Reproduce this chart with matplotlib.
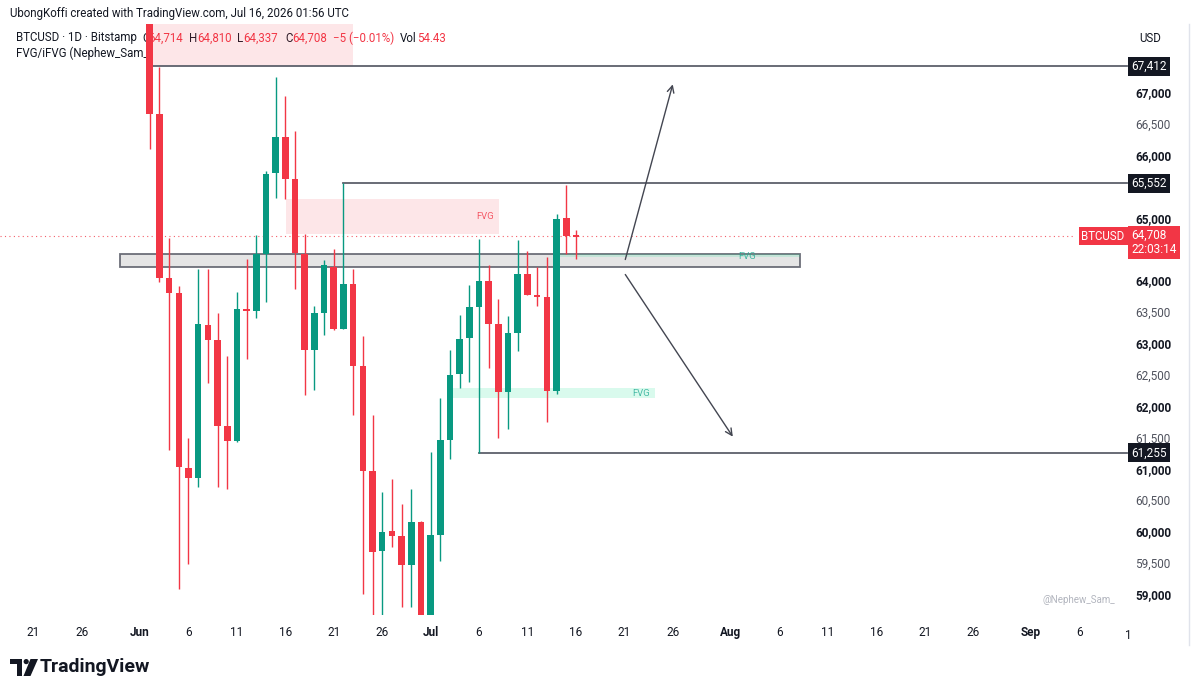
import numpy as np
import pandas as pd
import matplotlib
matplotlib.use('Agg')
import matplotlib.pyplot as plt
import matplotlib.transforms as mtransforms
from matplotlib.patches import Rectangle, Polygon, Circle
from matplotlib.lines import Line2D

plt.rcParams['font.family'] = ['Roboto', 'DejaVu Sans']

# daily BTCUSD candles (Bitstamp), Jun 2 -> Jul 16 2026
dates = pd.date_range('2026-06-02', '2026-07-16', freq='D')
opens = [68400, 66660, 64035, 63800, 61010, 60850, 63290, 63060, 61675, 61440,
         63550, 63515, 64425, 65710, 66280, 65610, 64425, 62885, 63480, 64215,
         63235, 63940, 62640, 60970, 59695, 60005, 59935, 59460, 60150, 58550,
         59950, 61465, 62510, 63080, 63575, 63990, 63315, 62230, 63170, 64105,
         63770, 63735, 62245, 64990, 64714]
highs = [68600, 67410, 64680, 63905, 61490, 64190, 64190, 63490, 62800, 63820,
         64340, 64725, 65750, 67250, 66945, 66385, 64740, 63600, 64335, 64510,
         65552, 64190, 63120, 61855, 60635, 60830, 60445, 60680, 60160, 61265,
         62130, 62890, 63445, 63930, 64655, 64255, 63710, 63440, 64640, 64465,
         64220, 64380, 65065, 65515, 64810]
lows = [66100, 63980, 61300, 59090, 59490, 60710, 62375, 60710, 60680, 61420,
        62755, 63410, 63650, 65320, 65305, 63860, 62180, 62250, 63135, 63205,
        63220, 61860, 59010, 58665, 58665, 59760, 58795, 58795, 58300, 58400,
        59525, 61155, 62280, 62385, 61255, 62605, 61485, 61640, 62875, 63775,
        63590, 61745, 62195, 64430, 64337]
closes = [66660, 64035, 63800, 61030, 60850, 63300, 63045, 61675, 61440, 63545,
          63510, 64430, 65705, 66280, 65610, 64435, 62885, 63480, 64240, 63235,
          63940, 62640, 60970, 59680, 60000, 59935, 59460, 60150, 58550, 59950,
          61465, 62500, 63070, 63575, 63990, 63300, 62230, 63170, 64105, 63775,
          63735, 62245, 64975, 64710, 64708]

# drawn levels (price, start day counted from Jun 1)
levels = [67412, 65552, 61255]
level_start = [1.35, 21, 35]

# zones: (day from, day to, price low, price high)
pink_zones = [(1.0, 22.0, 67412, 68700), (15.1, 37.1, 64740, 65300)]
green_zones = [(32.0, 53.2, 62130, 62290), (43.0, 68.1, 64380, 64423)]
grey_box = (-2.1, 68.1, 64216, 64423)
fvg_labels = [(35.6, 65020, '#f23645'), (51.7, 62200, '#22ab94'), (62.7, 64380, '#22ab94')]

# projection arrows: (start day, start price, end day, end price)
arrows = [(50.1, 64335, 55.0, 67126), (50.1, 64096, 61.2, 61512)]

# price scale labels shown (64,500 and 65,500 are hidden behind the price boxes)
yticks = [59000, 59500, 60000, 60500, 61000, 61500, 62000, 62500, 63000, 63500,
          64000, 65000, 66000, 66500, 67000, 67500]
xtick_days = [-11, -6, 0, 5, 10, 15, 20, 25, 30, 35, 40, 45, 50, 55, 61, 66, 71, 76, 81, 86, 92, 97]
xtick_labels = ['21', '26', 'Jun', '6', '11', '16', '21', '26', 'Jul', '6', '11', '16',
                '21', '26', 'Aug', '6', '11', '16', '21', '26', 'Sep', '6']

GREEN = '#089981'
RED = '#f23645'
DARK = '#131722'
LINE = '#5d606b'

W, H = 1199, 694
fig = plt.figure(figsize=(W / 100, H / 100), dpi=100)
fig.patch.set_facecolor('white')
ax = fig.add_axes([0, 1 - 615 / H, 1127 / W, (615 - 24) / H])
ax.patch.set_visible(False)
ax.set_xlim(-14.46, 101.9)
ax.set_ylim(58670, 68088)
for s in ax.spines.values():
    s.set_visible(False)

x = (dates - pd.Timestamp('2026-06-01')).days.values
o = np.array(opens, float)
h = np.array(highs, float)
l = np.array(lows, float)
c = np.array(closes, float)
cols = np.where(c >= o, GREEN, RED)

# zones
for x0, x1, p0, p1 in pink_zones:
    ax.add_patch(Rectangle((x0, p0), x1 - x0, p1 - p0, fc=RED, alpha=0.12, lw=0, zorder=1))
for x0, x1, p0, p1 in green_zones:
    ax.add_patch(Rectangle((x0, p0), x1 - x0, p1 - p0, fc='#2ee6a0', alpha=0.18, lw=0, zorder=2.2))
gx0, gx1, gp0, gp1 = grey_box
ax.add_patch(Rectangle((gx0, gp0), gx1 - gx0, gp1 - gp0, fc='#e3e3e3', ec=LINE, lw=1.3,
                       alpha=0.9, zorder=2))
for fx, fy, fc in fvg_labels:
    ax.text(fx, fy, 'FVG', color=fc, fontsize=6.8, ha='center', va='center', alpha=0.8, zorder=3)

# levels
for lv, st in zip(levels, level_start):
    ax.plot([st, 101.9], [lv, lv], color=LINE, lw=1.3, zorder=3, clip_on=False)

# last price dotted line
ax.plot([-14.46, 96.3], [closes[-1]] * 2, color=RED, lw=0.8, ls=(0, (1, 3)), alpha=0.8, zorder=1.5)

# candles
ax.vlines(x, l, h, colors=cols, lw=1, zorder=4)
bh = np.maximum(np.abs(c - o), 25)
bb = (o + c) / 2 - bh / 2
ax.bar(x, bh, bottom=bb, width=0.68, color=cols, lw=0, zorder=5)

for x0, p0, x1, p1 in arrows:
    ax.annotate('', xy=(x1, p1), xytext=(x0, p0),
                arrowprops=dict(arrowstyle='->', color='#434651', lw=1, mutation_scale=12,
                                shrinkA=0, shrinkB=0), zorder=6)

# axes / ticks
ax.yaxis.tick_right()
ax.set_yticks(yticks)
ax.set_yticklabels([f'{v:,}' for v in yticks])
for v, t in zip(yticks, ax.get_yticklabels()):
    if v % 1000 == 0:
        t.set_fontweight('bold')
        t.set_color(DARK)
    else:
        t.set_color('#50535e')
ax.tick_params(axis='y', length=0, pad=6, labelsize=8.5)
ax.set_xticks(xtick_days)
ax.set_xticklabels(xtick_labels)
for lab, t in zip(xtick_labels, ax.get_xticklabels()):
    t.set_color(DARK)
    if not lab.isdigit():
        t.set_fontweight('bold')
ax.tick_params(axis='x', length=0, pad=8, labelsize=8.5)
trans_x = mtransforms.blended_transform_factory(ax.transData, ax.transAxes)
ax.text(102, -0.024, '1', transform=trans_x, ha='center', va='top', fontsize=8.5, color=DARK, clip_on=False)

# right-side price labels
trans_y = mtransforms.blended_transform_factory(ax.transAxes, ax.transData)
for lv in levels:
    ax.annotate(f'{lv:,}', xy=(1, lv), xycoords=trans_y, xytext=(3, 0), textcoords='offset points',
                ha='left', va='center', color='white', fontsize=8.5, zorder=10, annotation_clip=False,
                bbox=dict(boxstyle='square,pad=0.25', fc=DARK, ec='none'))
ax.text(0.998, closes[-1], 'BTCUSD', transform=trans_y, ha='right', va='center', color='white',
        fontsize=8.3, zorder=10, bbox=dict(boxstyle='square,pad=0.25', fc=RED, ec='none'))
ax.annotate(f'{closes[-1]:,}\n22:03:14', xy=(1, closes[-1]), xycoords=trans_y, xytext=(3, 5),
            textcoords='offset points', ha='left', va='top', color='white', fontsize=8.5,
            linespacing=1.05, zorder=10, annotation_clip=False,
            bbox=dict(boxstyle='square,pad=0.3', fc=RED, ec='none'))


def ftext(px, py, s, **kw):
    kw.setdefault('fontsize', 8.3)
    kw.setdefault('color', DARK)
    kw.setdefault('va', 'center')
    kw.setdefault('zorder', -1)
    fig.text(px / W, 1 - py / H, s, **kw)


ftext(10, 13, 'UbongKoffi created with TradingView.com, Jul 16, 2026 01:56 UTC')
ftext(16, 38, 'BTCUSD · 1D · Bitstamp')
ftext(16, 53, 'FVG/iFVG (Nephew_Sam_)')
hdr = [(142, 'O', DARK), (148, '64,714', RED), (189, 'H', DARK), (197, '64,810', RED),
       (237, 'L', DARK), (243, '64,337', RED), (285, 'C', DARK), (292, '64,708', RED),
       (333, '−5 (−0.01%)', RED), (400, 'Vol', DARK), (417, '54.43', RED)]
for px, s, col in hdr:
    ftext(px, 38, s, color=col)
ftext(1150, 38, 'USD', ha='center')
ftext(1115, 600, '@Nephew_Sam_', ha='right', color='#b2b5be', fontsize=7)

fig.add_artist(Line2D([1189 / W] * 2, [1 - 645 / H, 1 - 24 / H], color='#e0e3eb', lw=1))

# TradingView logo
lax = fig.add_axes([10 / W, 1 - 677 / H, 28 / W, 19 / H])
lax.set_xlim(0, 28)
lax.set_ylim(19, 0)
lax.axis('off')
lax.add_patch(Polygon([(0, 1), (12, 1), (12, 18), (6.5, 18), (6.5, 6), (0, 6)], fc=DARK, ec='none'))
lax.add_patch(Circle((16.2, 3.6), 2.6, fc=DARK, ec='none'))
lax.add_patch(Polygon([(20.5, 1), (28, 1), (20.5, 18), (13.5, 18)], fc=DARK, ec='none'))
ftext(40, 667, 'TradingView', fontsize=14, fontweight='bold', zorder=3)

fig.savefig('out.png', dpi=100)
